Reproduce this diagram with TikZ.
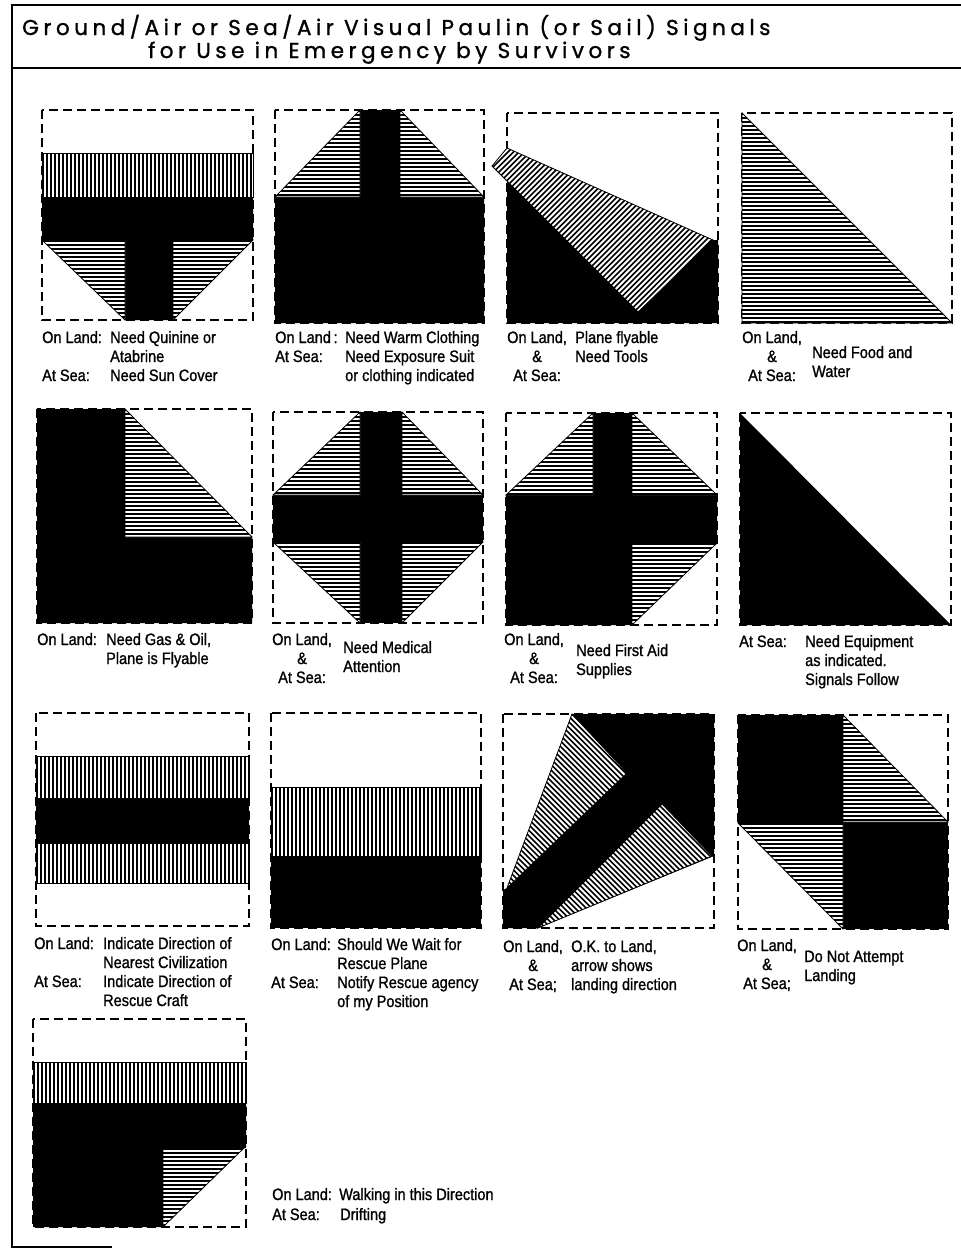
\documentclass[tikz,border=0pt]{standalone}
\usepackage{fontspec}
\setmainfont{Liberation Sans}
\newfontfamily\condfont[FakeStretch=0.88,FakeBold=1.1]{Liberation Sans}
\newfontfamily\titlefont[LetterSpace=21,FakeBold=1.2]{Poppins}
\begin{document}
\begin{tikzpicture}[x=1pt,y=-1pt,
  dbox/.style={draw, line width=1.1pt, dash pattern=on 9pt off 5pt},
  blk/.style={fill=black},
  hatchbase/.style={draw, line width=0.8pt, fill=white},
  hh/.style={hatchbase, path picture={\foreach \k in {1,5,...,260} \draw[line width=2pt] ([yshift=-\k*1pt]path picture bounding box.north west) -- ([yshift=-\k*1pt]path picture bounding box.north east);}},
  vh/.style={hatchbase, path picture={\foreach \k in {1,5,...,260} \draw[line width=2.4pt] ([xshift=\k*1pt]path picture bounding box.north west) -- ([xshift=\k*1pt]path picture bounding box.south west);}},
  diagne/.style={hatchbase, path picture={\foreach \k in {-320,-314.5,...,300} \draw[line width=1.5pt] ([xshift=\k*1pt]path picture bounding box.south west) -- ([xshift=\k*1pt+350pt,yshift=350pt]path picture bounding box.south west);}},
  diagnw/.style={hatchbase, path picture={\foreach \k in {-320,-314.5,...,300} \draw[line width=1.5pt] ([xshift=\k*1pt]path picture bounding box.north west) -- ([xshift=\k*1pt+350pt,yshift=-350pt]path picture bounding box.north west);}},
  lbl/.style={font=\condfont\fontsize{16.5}{19}\selectfont, inner sep=0pt, anchor=base west, align=left},
  lblc/.style={lbl, align=center},
  ttl/.style={font=\titlefont\fontsize{21.5}{24}\selectfont, inner sep=0pt, anchor=base west},
  frameline/.style={line width=1.6pt}]
\useasboundingbox (0,0) rectangle (961,1253);
% frame
\draw[frameline] (12,5) -- (961,5);
\draw[frameline] (12,68) -- (961,68);
\draw[frameline] (12,4) -- (12,1247) -- (112,1247);
\node[ttl] (title1) at (22,35) {Ground/Air or Sea/Air Visual Paulin (or Sail) Signals};
\node[ttl] (title2) at (148,58) {for Use in Emergency by Survivors};

% ---- Panel 1: Quinine
\draw[dbox] (42,110) rectangle (253,320);
\draw[vh] (42,153) rectangle (253,197);
\fill[blk] (42,197) -- (253,197) -- (253,240) -- (173,240) -- (173,320) -- (125,320) -- (125,240) -- (42,240) -- cycle;
\draw[hh] (42,240) -- (125,240) -- (125,320) -- cycle;
\draw[hh] (173,240) -- (253,240) -- (173,320) -- cycle;
\node[lbl] (p1a) at (42,343) {On Land:};
\node[lbl] (p1b) at (42,381) {At Sea:};
\node[lbl] (p1c) at (110,381) {Need Quinine or\\Atabrine\\Need Sun Cover};

% ---- Panel 2: Warm clothing
\draw[dbox] (275,110) rectangle (484,323);
\fill[blk] (360,110) -- (400,110) -- (400,197) -- (484,197) -- (484,323) -- (275,323) -- (275,197) -- (360,197) -- cycle;
\draw[hh] (275,197) -- (360,197) -- (360,110) -- cycle;
\draw[hh] (400,110) -- (400,197) -- (484,197) -- cycle;
\node[lbl] (p2a) at (275,362) {On Land\,:\\At Sea:};
\node[lbl] (p2c) at (345,381) {Need Warm Clothing\\Need Exposure Suit\\or clothing indicated};

% ---- Panel 3: Need tools
\draw[dbox] (507,113) rectangle (718,323);
\fill[blk] (507,165) -- (713,240) -- (718,240) -- (718,323) -- (507,323) -- cycle;
\draw[diagne] (492,166) -- (507,148) -- (713,240) -- (638,312) -- cycle;
\node[lblc] (p3a) at (507,381) {On Land,\\\&\\At Sea:};
\node[lbl] (p3c) at (575,362) {Plane flyable\\Need Tools};

% ---- Panel 4: Food and water
\draw[dbox] (742,113) rectangle (952,323);
\draw[hh] (742,113) -- (742,323) -- (952,323) -- cycle;
\node[lblc] (p4a) at (742,381) {On Land,\\\&\\At Sea:};
\node[lbl] (p4c) at (812,377) {Need Food and\\Water};

% ---- Panel 5: Gas & oil
\draw[dbox] (37,409) rectangle (252,623);
\fill[blk] (37,409) -- (125,409) -- (125,537) -- (252,537) -- (252,623) -- (37,623) -- cycle;
\draw[hh] (125,409) -- (125,537) -- (252,537) -- cycle;
\node[lbl] (p5a) at (37,645) {On Land:};
\node[lbl] (p5c) at (106,664) {Need Gas \& Oil,\\Plane is Flyable};

% ---- Panel 6: Medical
\draw[dbox] (273,412) rectangle (483,623);
\fill[blk] (360,412) rectangle (402,623);
\fill[blk] (273,495) rectangle (483,542);
\draw[hh] (273,495) -- (360,495) -- (360,412) -- cycle;
\draw[hh] (402,412) -- (402,495) -- (483,495) -- cycle;
\draw[hh] (273,542) -- (360,542) -- (360,623) -- cycle;
\draw[hh] (402,542) -- (483,542) -- (402,623) -- cycle;
\node[lblc] (p6a) at (272,683) {On Land,\\\&\\At Sea:};
\node[lbl] (p6c) at (343,672) {Need Medical\\Attention};

% ---- Panel 7: First aid
\draw[dbox] (506,413) rectangle (717,625);
\fill[blk] (593,413) -- (632,413) -- (632,495) -- (717,495) -- (717,543) -- (632,543) -- (632,625) -- (506,625) -- (506,495) -- (593,495) -- cycle;
\draw[hh] (506,495) -- (593,495) -- (593,413) -- cycle;
\draw[hh] (632,413) -- (632,495) -- (717,495) -- cycle;
\draw[hh] (632,543) -- (717,543) -- (632,625) -- cycle;
\node[lblc] (p7a) at (504,683) {On Land,\\\&\\At Sea:};
\node[lbl] (p7c) at (576,675) {Need First Aid\\Supplies};

% ---- Panel 8: Equipment
\draw[dbox] (740,413) rectangle (951,625);
\fill[blk] (740,413) -- (740,625) -- (951,625) -- cycle;
\node[lbl] (p8a) at (739,647) {At Sea:};
\node[lbl] (p8c) at (805,685) {Need Equipment\\as indicated.\\Signals Follow};

% ---- Panel 9: Direction of civilization
\draw[dbox] (36,713) rectangle (249,926);
\draw[vh] (36,756) rectangle (249,798);
\fill[blk] (36,798) rectangle (249,843);
\draw[vh] (36,843) rectangle (249,883);
\node[lbl] (p9a) at (34,949) {On Land:};
\node[lbl] (p9b) at (34,987) {At Sea:};
\node[lbl] (p9c) at (103,1006) {Indicate Direction of\\Nearest Civilization\\Indicate Direction of\\Rescue Craft};

% ---- Panel 10: Wait for rescue plane
\draw[dbox] (271,713) rectangle (481,928);
\draw[vh] (271,787) rectangle (481,856);
\fill[blk] (271,856) rectangle (481,928);
\node[lbl] (p10a) at (271,950) {On Land:};
\node[lbl] (p10b) at (271,988) {At Sea:};
\node[lbl] (p10c) at (337,1007) {Should We Wait for\\Rescue Plane\\Notify Rescue agency\\of my Position};

% ---- Panel 11: OK to land
\draw[dbox] (503,714) rectangle (714,928);
\fill[blk] (572,714) -- (714,714) -- (714,856) -- (538,928) -- (503,928) -- (503,890) -- (507,888) -- cycle;
\draw[diagnw] (572,714) -- (627,773) -- (507,888) -- cycle;
\draw[diagnw] (662,804) -- (712,856) -- (538,928) -- cycle;
\node[lblc] (p11a) at (503,990) {On Land,\\\&\\At Sea;};
\node[lbl] (p11c) at (571,990) {O.K. to Land,\\arrow shows\\landing direction};

% ---- Panel 12: Do not attempt landing
\draw[dbox] (738,715) rectangle (948,929);
\fill[blk] (738,715) rectangle (843,823);
\fill[blk] (843,822) rectangle (948,929);
\draw[hh] (843,715) -- (843,822) -- (948,822) -- cycle;
\draw[hh] (738,823) -- (843,823) -- (843,929) -- cycle;
\node[lblc] (p12a) at (737,989) {On Land,\\\&\\At Sea;};
\node[lbl] (p12c) at (804,981) {Do Not Attempt\\Landing};

% ---- Panel 13: Walking
\draw[dbox] (33,1019) rectangle (246,1227);
\draw[vh] (33,1062) rectangle (246,1103);
\fill[blk] (33,1103) -- (246,1103) -- (246,1148) -- (163,1148) -- (163,1227) -- (33,1227) -- cycle;
\draw[hh] (163,1148) -- (244,1148) -- (163,1227) -- cycle;
\node[lbl] (p13a) at (272,1200) {On Land:};
\node[lbl] (p13b) at (272,1220) {At Sea:};
\node[lbl] (p13c) at (339,1200) {Walking in this Direction};
\node[lbl] (p13d) at (340,1220) {Drifting};
\end{tikzpicture}
\end{document}
